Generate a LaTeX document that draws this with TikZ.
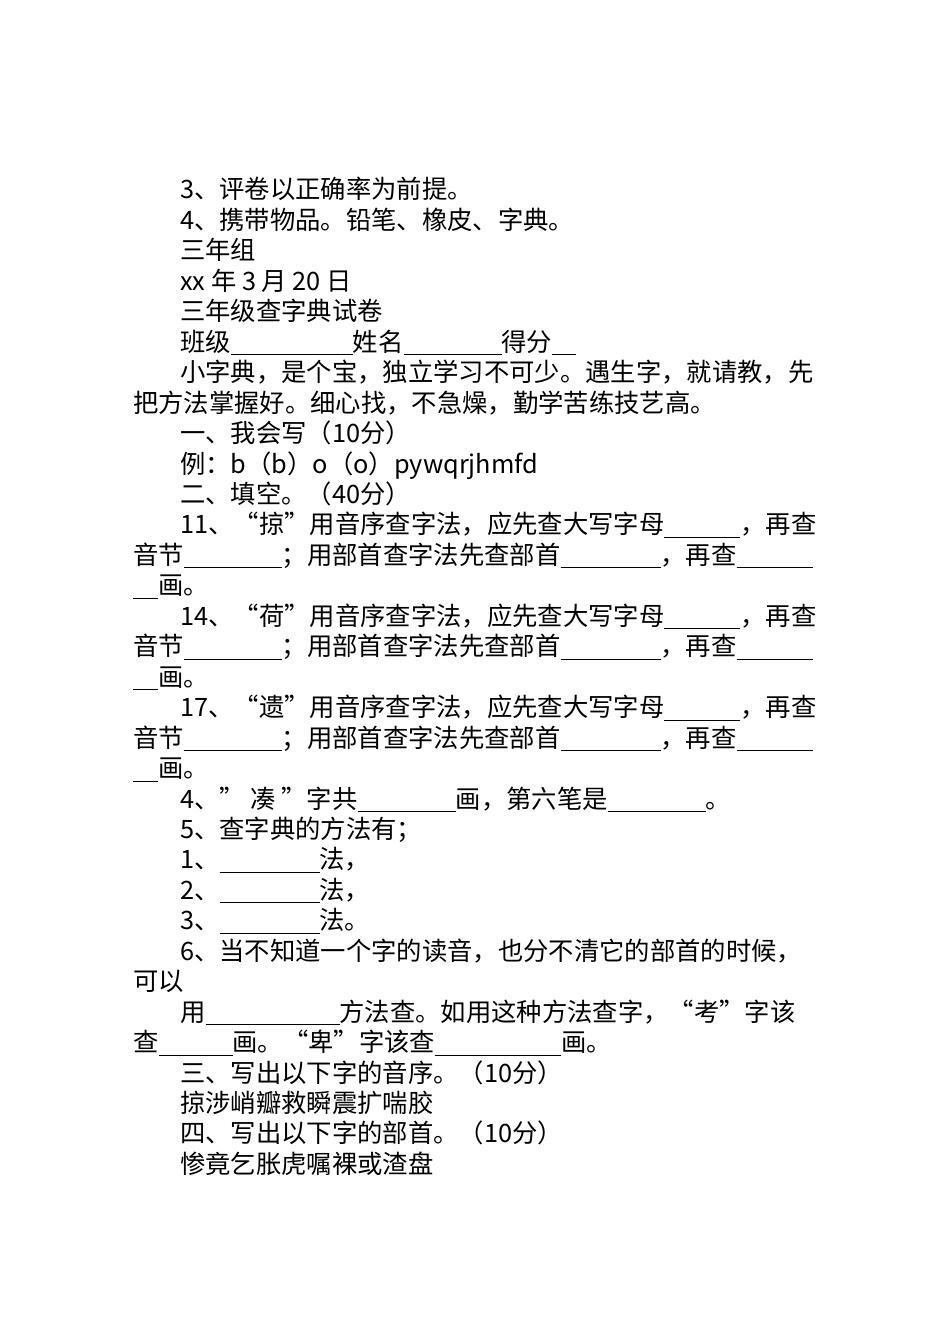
\documentclass[tikz,border=0pt]{standalone}
\usepackage{fontspec}
\setmainfont{Noto Sans CJK SC}
\newcommand\bl[1]{\rule[-3pt]{\dimexpr #1pt*3/4\relax}{0.7pt}}
\begin{document}
\begin{tikzpicture}[x=0.75pt,y=-0.75pt,
  ln/.style={anchor=base west,inner sep=0pt,font=\fontsize{19}{19}\selectfont}]
\useasboundingbox[fill=white] (0,0) rectangle (950,1344);
\def\Y#1{\fpeval{199+30.45*(#1)}}
\node[ln] (l0) at (180,{\Y{0}}) {3、评卷以正确率为前提。};
\node[ln] (l1) at (180,{\Y{1}}) {4、携带物品。铅笔、橡皮、字典。};
\node[ln] (l2) at (180,{\Y{2}}) {三年组};
\node[ln] (l3) at (180,{\Y{3}}) {xx 年 3 月 20 日};
\node[ln] (l4) at (180,{\Y{4}}) {三年级查字典试卷};
\node[ln] (l5) at (180,{\Y{5}}) {班级\bl{122}姓名\bl{98}得分\bl{24}};
\node[ln] (l6) at (180,{\Y{6}}) {小字典，是个宝，独立学习不可少。遇生字，就请教，先};
\node[ln] (l7) at (133,{\Y{7}}) {把方法掌握好。细心找，不急燥，勤学苦练技艺高。};
\node[ln] (l8) at (180,{\Y{8}}) {一、我会写（10分）};
\node[ln] (l9) at (180,{\Y{9}}) {例：b（b）o（o）pywqrjhmfd};
\node[ln] (l10) at (180,{\Y{10}}) {二、填空。（40分）};
\foreach \k/\c in {11/掠,14/荷,17/遗}{
\node[ln] at (180,{\Y{\k}}) {\k、“\c”用音序查字法，应先查大写字母\bl{76}，再查};
\node[ln] at (133,{\Y{\k+1}}) {音节\bl{98}；用部首查字法先查部首\bl{100}，再查\bl{76}};
\node[ln] at (133,{\Y{\k+2}}) {\bl{25}画。};
}
\node[ln] (l20) at (180,{\Y{20}}) {4、" 凑 "字共\bl{98}画，第六笔是\bl{98}。};
\node[ln] (l21) at (180,{\Y{21}}) {5、查字典的方法有；};
\node[ln] (l22) at (180,{\Y{22}}) {1、\bl{100}法，};
\node[ln] (l23) at (180,{\Y{23}}) {2、\bl{100}法，};
\node[ln] (l24) at (180,{\Y{24}}) {3、\bl{100}法。};
\node[ln] (l25) at (180,{\Y{25}}) {6、当不知道一个字的读音，也分不清它的部首的时候，};
\node[ln] (l26) at (133,{\Y{26}}) {可以};
\node[ln] (l27) at (180,{\Y{27}}) {用\bl{134}方法查。如用这种方法查字，“考”字该};
\node[ln] (l28) at (133,{\Y{28}}) {查\bl{74}画。“卑”字该查\bl{126}画。};
\node[ln] (l29) at (180,{\Y{29}}) {三、写出以下字的音序。（10分）};
\node[ln] (l30) at (180,{\Y{30}}) {掠涉峭瓣救瞬震扩喘胶};
\node[ln] (l31) at (180,{\Y{31}}) {四、写出以下字的部首。（10分）};
\node[ln] (l32) at (180,{\Y{32}}) {惨竟乞胀虎嘱裸或渣盘};
\end{tikzpicture}
\end{document}
